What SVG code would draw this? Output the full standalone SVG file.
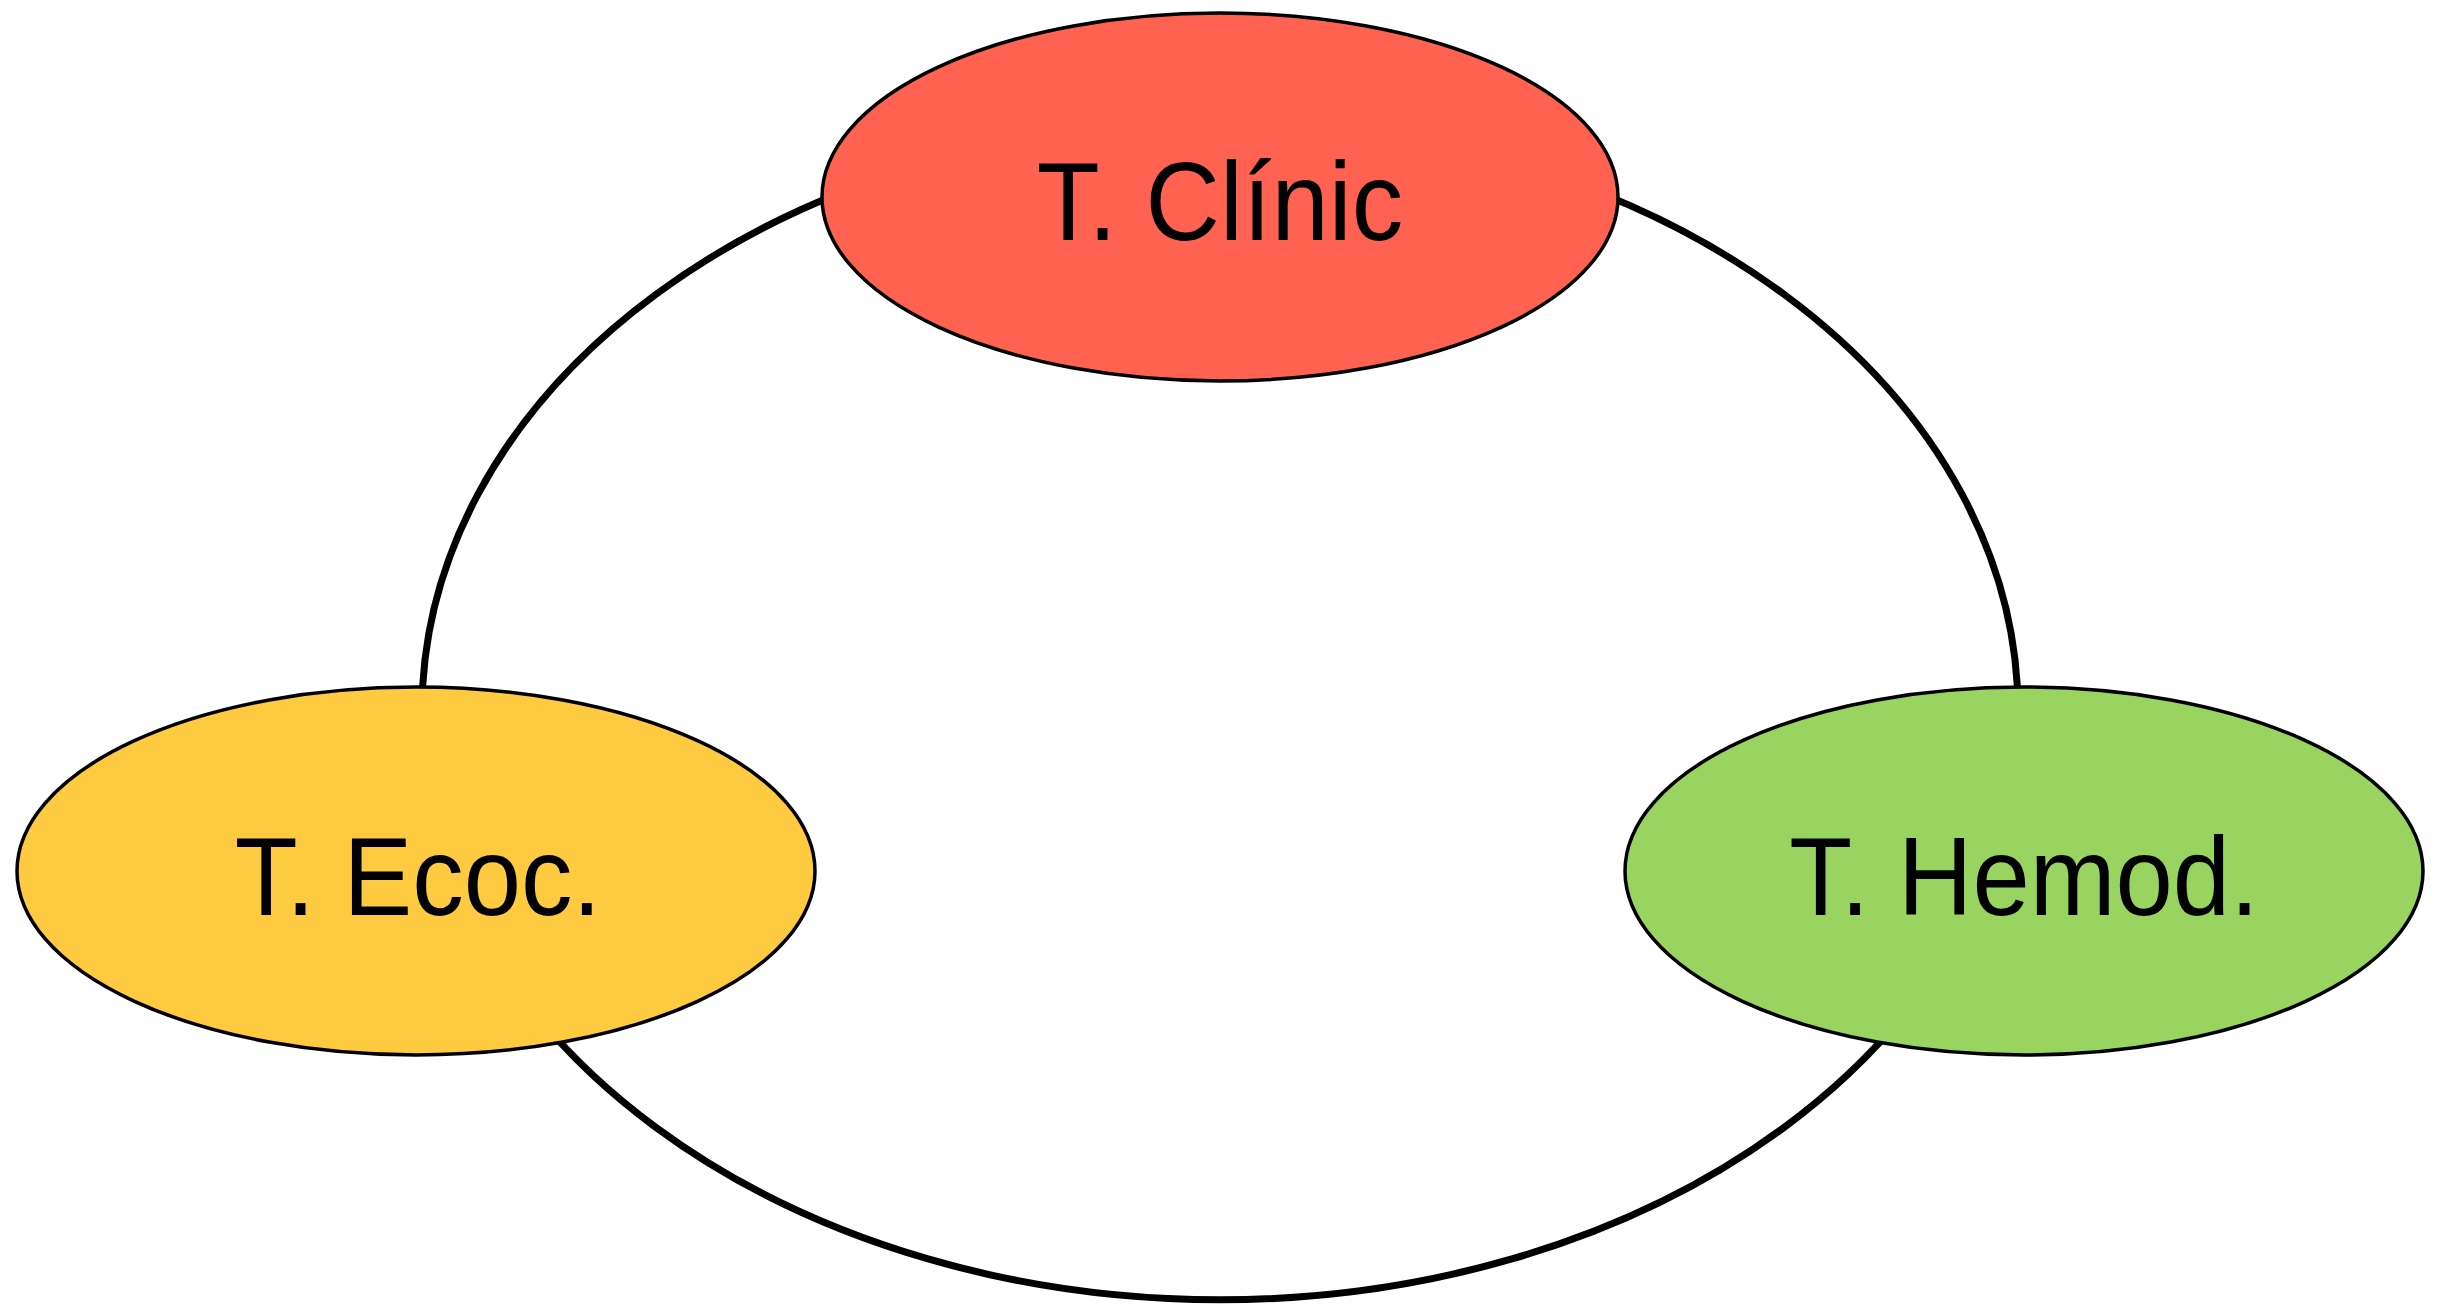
<svg xmlns="http://www.w3.org/2000/svg" width="2440" height="1305" viewBox="0 0 2440 1305">
<style>
.edge{fill:none;stroke:#000;stroke-width:7}
.node{stroke:#000;stroke-width:3.5}
.lbl{font-family:"Liberation Sans",Arial,Helvetica,sans-serif;font-size:112px;fill:#000;text-anchor:middle}
</style>
<rect width="2440" height="1305" fill="#fff"/>
<g id="connectors">
<path class="edge" d="M422,711 A798,589 0 0,1 1220,122"/>
<path class="edge" d="M1220,122 A798,589 0 0,1 2018,711"/>
<path class="edge" d="M2018,711 A798,589 0 0,1 422,711"/>
</g>
<g id="node-clinic">
<ellipse class="node" cx="1220" cy="197" rx="398" ry="184" fill="#FF6250"/>
<text class="lbl" transform="translate(1220,240) scale(0.92,1)">T. Clínic</text>
</g>
<g id="node-ecoc">
<ellipse class="node" cx="416" cy="871" rx="399" ry="184" fill="#FDCA40"/>
<text class="lbl" transform="translate(418,915) scale(0.92,1)">T. Ecoc.</text>
</g>
<g id="node-hemod">
<ellipse class="node" cx="2024" cy="871" rx="399" ry="184" fill="#98D45F"/>
<text class="lbl" transform="translate(2024,915) scale(0.92,1)">T. Hemod.</text>
</g>
</svg>
